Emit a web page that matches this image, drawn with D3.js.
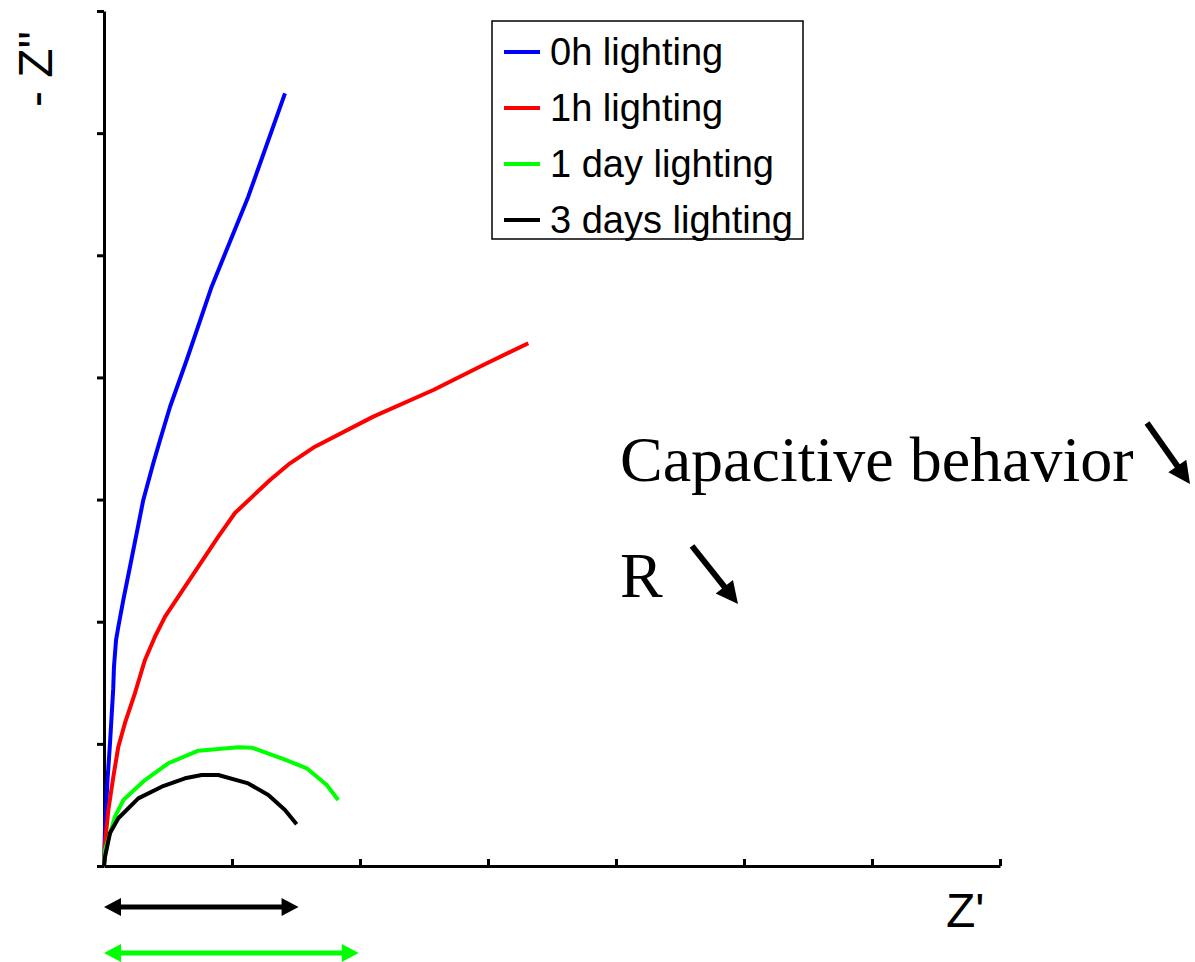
<!DOCTYPE html>
<html><head><meta charset="utf-8">
<script src="https://cdn.jsdelivr.net/npm/d3@7"></script>
<style>body{margin:0;background:#fff}svg{display:block}</style>
</head><body>
<script>
// ---- data (x = Z', y = -Z'', arbitrary units) ----
const seriesNames  = ["0h lighting", "1h lighting", "1 day lighting", "3 days lighting"];
const seriesColors = ["#0000ff", "#ff0000", "#00ff00", "#000000"];

const blueX = [0, 0.008, 0.029, 0.047, 0.072, 0.078, 0.094, 0.112, 0.151, 0.203, 0.255, 0.307, 0.385, 0.438, 0.516, 0.646, 0.841, 1.127, 1.414];
const blueY = [0, 0.319, 0.729, 1.007, 1.450, 1.632, 1.850, 1.959, 2.178, 2.450, 2.724, 2.997, 3.297, 3.488, 3.760, 4.143, 4.743, 5.480, 6.326];

const redX = [0, 0.008, 0.034, 0.073, 0.112, 0.164, 0.242, 0.320, 0.398, 0.477, 0.685, 0.893, 1.023, 1.297, 1.453, 1.648, 2.104, 2.573, 2.963, 3.315];
const redY = [0, 0.188, 0.458, 0.731, 0.977, 1.171, 1.416, 1.687, 1.877, 2.041, 2.369, 2.696, 2.890, 3.160, 3.297, 3.433, 3.679, 3.897, 4.102, 4.280];

const greenX = [0, 0.008, 0.086, 0.151, 0.320, 0.502, 0.737, 1.049, 1.154, 1.388, 1.584, 1.740, 1.830];
const greenY = [0, 0.131, 0.404, 0.540, 0.704, 0.841, 0.944, 0.972, 0.969, 0.882, 0.800, 0.663, 0.540];

const blackX = [0, 0.008, 0.047, 0.112, 0.268, 0.451, 0.633, 0.763, 0.893, 1.127, 1.284, 1.414, 1.505];
const blackY = [0, 0.076, 0.270, 0.391, 0.554, 0.649, 0.718, 0.745, 0.745, 0.676, 0.581, 0.458, 0.341];

// range indicators under the axis (Z' extent of the arcs)
const rangeColors = ["#000000", "#00ff00"];
const rangeEnds   = [1.52, 1.99];

const xTicks = [0, 1, 2, 3, 4, 5, 6, 7];
const yTicks = [0, 1, 2, 3, 4, 5, 6, 7];

// ---- drawing ----
const W = 1195, H = 962;
const svg = d3.select("body").append("svg").attr("width", W).attr("height", H)
  .style("background", "#fff");

const x = d3.scaleLinear().domain([0, 7]).range([104, 1000]);
const y = d3.scaleLinear().domain([0, 7]).range([866, 11]);

// axes
const xAxis = svg.append("g").attr("transform", `translate(0,${y(0)})`)
  .call(d3.axisBottom(x).tickValues(xTicks).tickSize(-7).tickSizeOuter(0).tickFormat(""));
const yAxis = svg.append("g").attr("transform", `translate(${x(0)},0)`)
  .call(d3.axisLeft(y).tickValues(yTicks).tickSize(7).tickSizeOuter(0).tickFormat(""));
[xAxis, yAxis].forEach(g => {
  g.select(".domain").attr("stroke", "#000").attr("stroke-width", 3);
  g.selectAll(".tick line").attr("stroke", "#000").attr("stroke-width", 3);
});

// axis titles
svg.append("text")
  .attr("transform", "translate(52,107) rotate(-90)")
  .attr("font-family", "'Liberation Sans', Arial, sans-serif")
  .attr("font-size", 48).attr("fill", "#000")
  .text('- Z"');
svg.append("text")
  .attr("x", 946).attr("y", 927)
  .attr("font-family", "'Liberation Sans', Arial, sans-serif")
  .attr("font-size", 48).attr("fill", "#000")
  .text("Z'");

// series
const series = [
  {xs: blueX, ys: blueY},
  {xs: redX, ys: redY},
  {xs: greenX, ys: greenY},
  {xs: blackX, ys: blackY}
];
const line = d3.line().x(d => x(d[0])).y(d => y(d[1]));
series.forEach((s, i) => {
  const pts = s.xs.map((v, k) => [v, s.ys[k]]);
  svg.append("path").datum(pts)
    .attr("d", line)
    .attr("fill", "none")
    .attr("stroke", seriesColors[i])
    .attr("stroke-width", 4)
    .attr("stroke-linejoin", "round");
});

// arrow helper
function arrowHead(x1, y1, x2, y2, len, halfW, color) {
  const a = Math.atan2(y2 - y1, x2 - x1);
  const bx = x2 - len * Math.cos(a), by = y2 - len * Math.sin(a);
  const px = -Math.sin(a) * halfW, py = Math.cos(a) * halfW;
  svg.append("path")
    .attr("d", `M${x2},${y2}L${bx + px},${by + py}L${bx - px},${by - py}Z`)
    .attr("fill", color);
  return [bx, by];
}
function arrow(x1, y1, x2, y2, opt) {
  const o = Object.assign({len: 18, halfW: 9, width: 5, color: "#000", both: false}, opt);
  let [ex, ey] = arrowHead(x1, y1, x2, y2, o.len, o.halfW, o.color);
  let sx = x1, sy = y1;
  if (o.both) [sx, sy] = arrowHead(x2, y2, x1, y1, o.len, o.halfW, o.color);
  svg.append("line").attr("x1", sx).attr("y1", sy).attr("x2", ex + (x2-ex)*0.1).attr("y2", ey + (y2-ey)*0.1)
    .attr("stroke", o.color).attr("stroke-width", o.width);
}

// double arrows below the x axis
const rangeOffsets = [41, 87];
rangeEnds.forEach((v, i) => {
  const yy = y(0) + rangeOffsets[i];
  arrow(x(0), yy, x(v), yy, {len: 17, halfW: 9, width: 5, color: rangeColors[i], both: true});
});

// legend
const lg = svg.append("g");
lg.append("rect").attr("x", 492).attr("y", 21).attr("width", 311).attr("height", 218)
  .attr("fill", "#fff").attr("stroke", "#000").attr("stroke-width", 1.5);
seriesNames.forEach((name, i) => {
  const ry = 52 + i * 56;
  lg.append("line").attr("x1", 504).attr("x2", 540).attr("y1", ry).attr("y2", ry)
    .attr("stroke", seriesColors[i]).attr("stroke-width", 4);
  lg.append("text").attr("x", 550).attr("y", ry + 13)
    .attr("font-family", "'Liberation Sans', Arial, sans-serif")
    .attr("font-size", 38).attr("fill", "#000").text(name);
});

// annotations
const serif = "'Liberation Serif', 'Times New Roman', serif";
svg.append("text").attr("x", 620).attr("y", 481)
  .attr("font-family", serif).attr("font-size", 64).attr("fill", "#000")
  .text("Capacitive behavior");
svg.append("text").attr("x", 620).attr("y", 597)
  .attr("font-family", serif).attr("font-size", 64).attr("fill", "#000")
  .text("R");
arrow(1147, 423, 1190, 484, {len: 22, halfW: 11, width: 6});
arrow(692, 546, 738, 604, {len: 22, halfW: 11, width: 6});
</script>
</body></html>
